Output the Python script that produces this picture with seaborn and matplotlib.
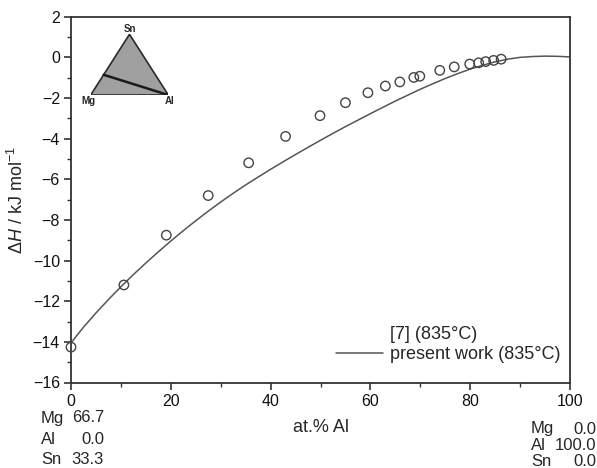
import matplotlib
matplotlib.use("Agg")
import matplotlib.pyplot as plt
from matplotlib.lines import Line2D
from matplotlib.patches import Polygon
import numpy as np
import pandas as pd
import seaborn as sns

# Experimental data [7] (835°C)
exp_x = [0.0, 10.6, 19.1, 27.5, 35.6, 43.0, 49.9, 55.0, 59.5, 63.0, 65.9, 68.7, 69.9,
         73.9, 76.8, 79.9, 81.7, 83.1, 84.7, 86.2]
exp_y = [-14.26, -11.2, -8.75, -6.8, -5.19, -3.89, -2.87, -2.23, -1.74, -1.41, -1.21,
         -0.99, -0.93, -0.64, -0.47, -0.33, -0.27, -0.21, -0.15, -0.09]

# Calculated curve, present work (835°C)
calc_x = [0, 2.5, 5, 7.5, 10, 12.5, 15, 17.5, 20, 22.5, 25, 27.5, 30, 32.5, 35, 37.5,
          40, 42.5, 45, 47.5, 50, 52.5, 55, 57.5, 60, 62.5, 65, 67.5, 70, 72.5, 75,
          77.5, 80, 82.5, 85, 87.5, 90, 92.5, 95, 97.5, 100]
calc_y = [-14.05, -13.28, -12.58, -11.92, -11.29, -10.69, -10.12, -9.57, -9.04, -8.53,
          -8.04, -7.57, -7.12, -6.69, -6.28, -5.89, -5.51, -5.14, -4.78, -4.43, -4.08,
          -3.74, -3.41, -3.09, -2.77, -2.46, -2.15, -1.86, -1.57, -1.30, -1.04, -0.80,
          -0.58, -0.39, -0.22, -0.09, 0.0, 0.04, 0.06, 0.05, 0.02]

xticks = [0, 20, 40, 60, 80, 100]
yticks = [-16, -14, -12, -10, -8, -6, -4, -2, 0, 2]

sns.set_style("white")
plt.rcParams['font.family'] = ['Liberation Sans', 'DejaVu Sans']
plt.rcParams['mathtext.fontset'] = 'custom'
plt.rcParams['mathtext.it'] = 'Liberation Sans:italic'
plt.rcParams['mathtext.rm'] = 'Liberation Sans'

fig = plt.figure(figsize=(5.97, 4.68), dpi=100)
ax = fig.add_axes([71 / 597, 1 - 382.5 / 468, (570 - 71) / 597, (382.5 - 16.7) / 468])

df_exp = pd.DataFrame({"x": exp_x, "y": exp_y})
df_calc = pd.DataFrame({"x": calc_x, "y": calc_y})

sns.lineplot(data=df_calc, x="x", y="y", ax=ax, color="#555555", linewidth=1.1,
             estimator=None, sort=False)
sns.scatterplot(data=df_exp, x="x", y="y", ax=ax, marker="o", s=46,
                facecolor="none", edgecolor="#444444", linewidth=1.0, zorder=3,
                clip_on=False)

ax.set_xlim(0, 100)
ax.set_ylim(-16, 2)
ax.set_xticks(xticks)
ax.set_yticks(yticks)
ax.set_xticks(np.arange(10, 100, 20), minor=True)
ax.set_yticks(np.arange(-15, 2, 2), minor=True)
ax.tick_params(axis="both", which="major", direction="out", length=5, width=1.2,
               labelsize=11.5, color="#333333", labelcolor="#111111", pad=3)
ax.tick_params(axis="both", which="minor", direction="out", length=3, width=1.0,
               color="#333333")
ax.tick_params(bottom=True, left=True, top=False, right=False, which="both")
for s in ax.spines.values():
    s.set_linewidth(1.3)
    s.set_color("#333333")

ax.set_xlabel("")
ax.set_ylabel(r"$\mathit{\Delta H}$ / kJ mol$^{-1}$", fontsize=13, labelpad=4)

# x label and compositions
fig.text(321 / 597, 1 - 428 / 468, "at.% Al", fontsize=13, ha="center", va="center")

left_lab = ["Mg", "Al", "Sn"]
left_val = ["66.7", "0.0", "33.3"]
right_lab = ["Mg", "Al", "Sn"]
right_val = ["0.0", "100.0", "0.0"]
for i, (l, v) in enumerate(zip(left_lab, left_val)):
    yy = 1 - (418 + 21 * i) / 468
    fig.text(41 / 597, yy, l, fontsize=12, ha="left", va="center")
    fig.text(104 / 597, yy, v, fontsize=12, ha="right", va="center")
for i, (l, v) in enumerate(zip(right_lab, right_val)):
    yy = 1 - (429 + 16.5 * i) / 468
    fig.text(531 / 597, yy, l, fontsize=12, ha="left", va="center")
    fig.text(596 / 597, yy, v, fontsize=12, ha="right", va="center")

# Legend
handles = [Line2D([], [], linestyle="none"),
           Line2D([], [], color="#555555", linewidth=1.1)]
labels = ["[7] (835°C)", "present work (835°C)"]
leg = ax.legend(handles, labels, loc="lower right", frameon=False, fontsize=13,
                handlelength=2.6, handletextpad=0.4, labelspacing=0.15,
                bbox_to_anchor=(1.014, 0.009))

# Ternary inset
iax = fig.add_axes([90.7 / 597, 1 - 95 / 468, (168.3 - 90.7) / 597, (95 - 34.3) / 468])
tri = Polygon([[0, 0], [1, 0], [0.5, 1]], closed=True, facecolor="#a0a0a0",
              edgecolor="#2a2a2a", linewidth=1.2)
iax.add_patch(tri)
iax.plot([1 / 6, 1], [1 / 3, 0], color="#1a1a1a", linewidth=1.8)
iax.set_xlim(0, 1)
iax.set_ylim(0, 1)
iax.axis("off")
fig.text(130 / 597, 1 - 29 / 468, "Sn", fontsize=7, fontweight="bold", ha="center", va="center")
fig.text(88 / 597, 1 - 101 / 468, "Mg", fontsize=7, fontweight="bold", ha="center", va="center")
fig.text(170 / 597, 1 - 101 / 468, "Al", fontsize=7, fontweight="bold", ha="center", va="center")

fig.savefig("out.png", dpi=100)
